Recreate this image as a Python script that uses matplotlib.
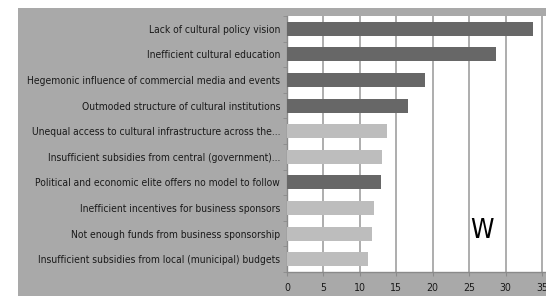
import matplotlib.pyplot as plt
from matplotlib.patches import Rectangle

# data (top to bottom)
categories = [
    "Lack of cultural policy vision",
    "Inefficient cultural education",
    "Hegemonic influence of commercial media and events",
    "Outmoded structure of cultural institutions",
    "Unequal access to cultural infrastructure across the...",
    "Insufficient subsidies from central (government)...",
    "Political and economic elite offers no model to follow",
    "Inefficient incentives for business sponsors",
    "Not enough funds from business sponsorship",
    "Insufficient subsidies from local (municipal) budgets",
]
values = [33.7, 28.7, 18.9, 16.6, 13.7, 13.1, 12.9, 11.9, 11.6, 11.1]
highlighted = [True, True, True, True, False, False, True, False, False, False]
x_ticks = [0, 5, 10, 15, 20, 25, 30, 35]

dark = "#676767"
light = "#bdbdbd"
panel = "#a9a9a9"

plt.rcParams["font.family"] = ["DejaVu Sans"]
plt.rcParams["font.stretch"] = "condensed"

fig = plt.figure(figsize=(5.46, 2.96), dpi=100)
fig.patch.set_facecolor("white")
# gray panel behind the chart
fig.patches.append(Rectangle((18 / 546, 0), 1, 1 - 8 / 296,
                             transform=fig.transFigure, facecolor=panel,
                             edgecolor="none", zorder=-10))

# 0 -> x=287 px, 35 -> x=542 px, axes runs to the right edge of the image
px_per_unit = (542 - 287) / 35
ax = fig.add_axes([287 / 546, 24 / 296, (546 - 287) / 546, 256 / 296])
ax.set_facecolor("white")

ypos = list(range(len(categories)))
colors = [dark if h else light for h in highlighted]
ax.barh(ypos, values, height=0.55, color=colors, zorder=3)

ax.set_ylim(len(categories) - 0.5, -0.5)
ax.set_xlim(0, (546 - 287) / px_per_unit)
ax.set_yticks(ypos)
ax.set_yticklabels(categories, fontsize=7.4, color="#1a1a1a")
ax.set_yticks([i + 0.5 for i in range(-1, len(categories))], minor=True)
ax.tick_params(axis="y", which="major", length=0, pad=5)
ax.tick_params(axis="y", which="minor", length=3, color="#8a8a8a")

ax.set_xticks(x_ticks)
ax.set_xticklabels([str(t) for t in x_ticks], fontsize=7.6, color="#1a1a1a")
ax.tick_params(axis="x", length=3, color="#8a8a8a", pad=5)
ax.grid(axis="x", color="#a0a0a0", linewidth=1.2, zorder=0)

for side in ["top", "right"]:
    ax.spines[side].set_visible(False)
for side in ["left", "bottom"]:
    ax.spines[side].set_color("#8a8a8a")
    ax.spines[side].set_linewidth(1.0)

ax.text(26.8, 7.9, "W", fontsize=19, color="black",
        ha="center", va="center", zorder=4)

fig.savefig("out.png", dpi=100, facecolor=fig.get_facecolor())
